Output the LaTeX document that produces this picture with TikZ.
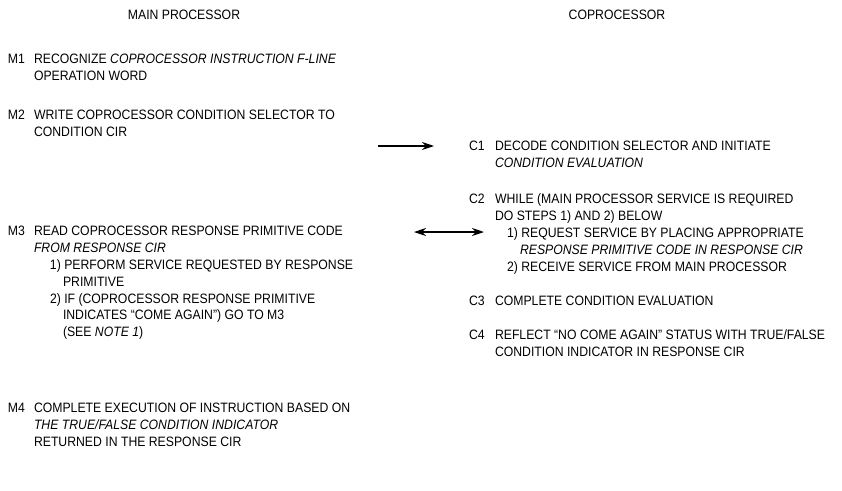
\documentclass[tikz,border=0pt]{standalone}
\usepackage{fontspec}
\setmainfont{Liberation Sans}[FakeStretch=0.9]
\usetikzlibrary{arrows.meta}
\begin{document}
\begin{tikzpicture}[x=1pt,y=-1pt,
  every node/.style={inner sep=0pt, outer sep=0pt, font=\fontsize{13.6}{16.8}\selectfont, text=black},
  stepno/.style={anchor=north west},
  steptext/.style={anchor=north west, align=left},
  hdr/.style={anchor=center},
  conn/.style={line width=1.2pt, -{Stealth[length=12pt,width=8pt]}},
  biconn/.style={line width=1.2pt, {Stealth[length=12pt,width=8pt]}-{Stealth[length=12pt,width=8pt]}},
]
\useasboundingbox (0,0) rectangle (842,490);

\node[hdr] (hm) at (184,15) {MAIN PROCESSOR};
\node[hdr] (hc) at (617,15) {COPROCESSOR};

% Main processor
\node[stepno] (m1n) at (8,51.7) {\strut M1};
\node[steptext] (m1) at (34,51.7) {\strut RECOGNIZE \textit{COPROCESSOR INSTRUCTION F-LINE}\\OPERATION WORD};

\node[stepno] (m2n) at (8,107.7) {\strut M2};
\node[steptext] (m2) at (34,107.7) {\strut WRITE COPROCESSOR CONDITION SELECTOR TO\\CONDITION CIR};

\node[stepno] (m3n) at (8,224.2) {\strut M3};
\node[steptext] (m3) at (34,224.2) {\strut READ COPROCESSOR RESPONSE PRIMITIVE CODE\\\textit{FROM RESPONSE CIR}\\\hspace*{16pt}1) PERFORM SERVICE REQUESTED BY RESPONSE\\\hspace*{29pt}PRIMITIVE\\\hspace*{16pt}2) IF (COPROCESSOR RESPONSE PRIMITIVE\\\hspace*{29pt}INDICATES ``COME AGAIN'') GO TO M3\\\hspace*{29pt}(SEE \textit{NOTE 1})};

\node[stepno] (m4n) at (8,400.7) {\strut M4};
\node[steptext] (m4) at (34,400.7) {\strut COMPLETE EXECUTION OF INSTRUCTION BASED ON\\\textit{THE TRUE/FALSE CONDITION INDICATOR}\\RETURNED IN THE RESPONSE CIR};

% Coprocessor
\node[stepno] (c1n) at (469,139.2) {\strut C1};
\node[steptext] (c1) at (495,139.2) {\strut DECODE CONDITION SELECTOR AND INITIATE\\\textit{CONDITION EVALUATION}};

\node[stepno] (c2n) at (469,192.2) {\strut C2};
\node[steptext] (c2) at (495,192.2) {\strut WHILE (MAIN PROCESSOR SERVICE IS REQUIRED\\DO STEPS 1) AND 2) BELOW\\\hspace*{12pt}1) REQUEST SERVICE BY PLACING APPROPRIATE\\\hspace*{25pt}\textit{RESPONSE PRIMITIVE CODE IN RESPONSE CIR}\\\hspace*{12pt}2) RECEIVE SERVICE FROM MAIN PROCESSOR};

\node[stepno] (c3n) at (469,294.2) {\strut C3};
\node[steptext] (c3) at (495,294.2) {\strut COMPLETE CONDITION EVALUATION};

\node[stepno] (c4n) at (469,328.2) {\strut C4};
\node[steptext] (c4) at (495,328.2) {\strut REFLECT ``NO COME AGAIN'' STATUS WITH TRUE/FALSE\\CONDITION INDICATOR IN RESPONSE CIR};

% Connectors
\coordinate (a1) at (378,146);
\coordinate (a2) at (434,146);
\coordinate (b1) at (414,232);
\coordinate (b2) at (484,232);
\draw[conn] (a1) -- (a2);
\draw[biconn] (b1) -- (b2);
\end{tikzpicture}
\end{document}
